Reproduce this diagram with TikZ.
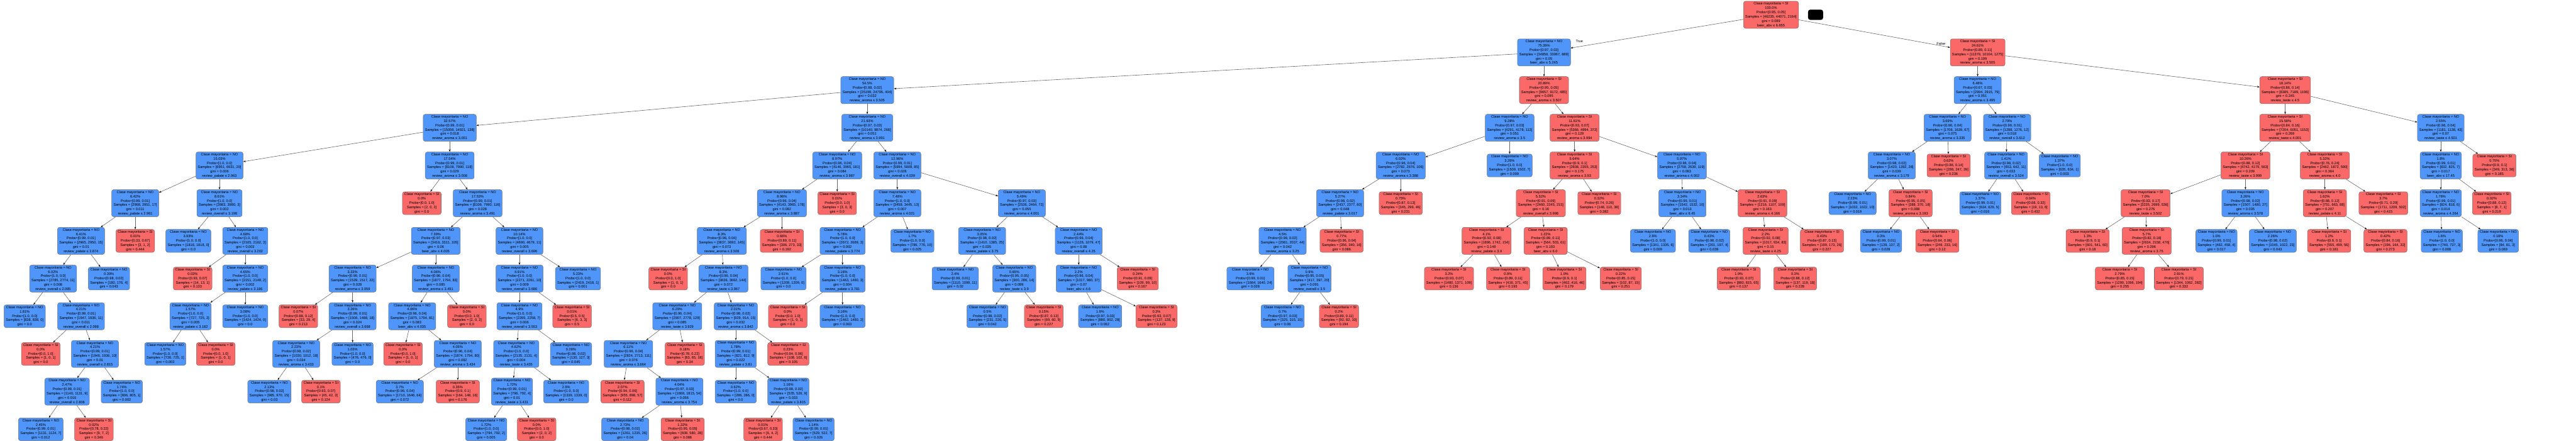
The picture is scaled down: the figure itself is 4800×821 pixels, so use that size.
\documentclass[tikz,border=0pt]{standalone}
\usepackage{fontspec}
\setmainfont{Liberation Sans}
\usetikzlibrary{arrows.meta}
\definecolor{cblue}{RGB}{80,150,250}
\definecolor{cred}{RGB}{250,104,104}
\newcommand\bAbv{beer\_abv ≤ }
\newcommand\rAr{review\_aroma ≤ }
\newcommand\rPa{review\_palate ≤ }
\newcommand\rTa{review\_taste ≤ }
\newcommand\rOv{review\_overall ≤ }
\newcommand\IN[9]{\node[tn,#4] (#1) at (#2,{27.5+70.2*#3}) {Clase mayoritaria = #4\\#5\%\\Probs=[#6]\\Samples = [#7]\\gini = #8\\#9};}
\newcommand\LF[8]{\node[tn,#4] (#1) at (#2,{27.5+70.2*#3}) {Clase mayoritaria = #4\\#5\%\\Probs=[#6]\\Samples = [#7]\\gini = #8};}
\begin{document}
\begin{tikzpicture}[x=1pt,y=-1pt,
  tn/.style={rounded corners=4pt, draw=black!55, line width=0.6pt, align=center,
    inner xsep=3.5pt, inner ysep=2.2pt, font=\fontsize{6.6}{8}\selectfont},
  NO/.style={fill=cblue},
  SI/.style={fill=cred},
  edge/.style={draw=black!60, line width=0.7pt, -{Stealth[length=4.5pt,width=3.2pt,black]}},
  lbl/.style={font=\fontsize{6.6}{8}\selectfont, inner sep=0pt}]
\fill[white] (0,0) rectangle (4800,821);
\useasboundingbox (0,0) rectangle (4800,821);
% level 0
\IN{n0}{3300}{0}{SI}{100.0}{0.95, 0.05}{46235, 44071, 2164}{0.089}{\bAbv 6.655}
\node[fill=black, rounded corners=4pt, minimum width=28pt, minimum height=19pt, inner sep=0pt] (blk) at (3383,27.5) {};
% level 1
\IN{n1}{2877}{1}{NO}{75.39}{0.97, 0.03}{34856, 33967, 889}{0.05}{\bAbv 5.245}
\IN{n2}{3685}{1}{SI}{24.61}{0.89, 0.11}{11379, 10104, 1275}{0.199}{\rAr 3.505}
% level 2
\IN{n3}{1616}{2}{NO}{54.5}{0.98, 0.02}{25199, 24795, 404}{0.032}{\rAr 3.505}
\IN{n4}{2877}{2}{SI}{20.89}{0.95, 0.05}{9657, 9172, 485}{0.095}{\rAr 3.507}
\IN{n5}{3685}{2}{NO}{6.48}{0.97, 0.03}{2994, 2915, 79}{0.051}{\rAr 3.495}
\IN{n6}{4258}{2}{SI}{18.14}{0.86, 0.14}{8385, 7189, 1196}{0.245}{\rTa 4.5}
% level 3
\IN{n7}{838}{3}{NO}{32.57}{0.99, 0.01}{15059, 14921, 138}{0.018}{\rAr 3.001}
\IN{n8}{1616}{3}{NO}{21.93}{0.97, 0.03}{10140, 9874, 266}{0.051}{\rAr 3.991}
\IN{n9}{2813}{3}{NO}{9.28}{0.97, 0.03}{4291, 4178, 113}{0.051}{\rAr 3.5}
\IN{n10}{2934}{3}{SI}{11.61}{0.93, 0.07}{5366, 4994, 372}{0.129}{\rAr 3.994}
\IN{n11}{3629}{3}{NO}{3.69}{0.96, 0.04}{1706, 1639, 67}{0.075}{\rAr 3.335}
\IN{n12}{3740}{3}{NO}{2.79}{0.99, 0.01}{1288, 1276, 12}{0.018}{\rOv 3.612}
\IN{n13}{4258}{3}{SI}{15.58}{0.84, 0.16}{7204, 6051, 1153}{0.269}{\rTa 4.001}
\IN{n14}{4548}{3}{NO}{2.55}{0.96, 0.04}{1181, 1138, 43}{0.07}{\rTa 4.501}
% level 4
\IN{n15}{409}{4}{NO}{15.03}{1.0, 0.0}{6951, 6931, 20}{0.006}{\rPa 2.963}
\IN{n16}{838}{4}{NO}{17.54}{0.99, 0.01}{8108, 7990, 118}{0.029}{\rAr 3.008}
\IN{n17}{1560}{4}{NO}{8.97}{0.96, 0.04}{4146, 3965, 181}{0.084}{\rAr 3.987}
\IN{n18}{1672}{4}{NO}{12.96}{0.99, 0.01}{5994, 5909, 85}{0.028}{\rOv 4.039}
\IN{n19}{2610}{4}{NO}{6.02}{0.96, 0.04}{2782, 2676, 106}{0.073}{\rAr 3.388}
\LF{n20}{2813}{4}{NO}{3.26}{1.0, 0.0}{1509, 1502, 7}{0.009}
\IN{n21}{2934}{4}{SI}{5.64}{0.9, 0.1}{2608, 2355, 253}{0.175}{\rAr 3.93}
\IN{n22}{3134}{4}{NO}{5.97}{0.96, 0.04}{2758, 2639, 119}{0.083}{\rAr 4.002}
\IN{n23}{3525}{4}{NO}{3.07}{0.98, 0.02}{1420, 1392, 28}{0.039}{\rAr 3.179}
\LF{n24}{3631}{4}{SI}{0.62}{0.86, 0.14}{286, 247, 39}{0.236}
\IN{n25}{3738}{4}{NO}{1.41}{0.98, 0.02}{653, 642, 11}{0.033}{\rOv 3.524}
\LF{n26}{3838}{4}{NO}{1.37}{1.0, 0.0}{635, 634, 1}{0.003}
\IN{n27}{4184}{4}{SI}{10.26}{0.88, 0.12}{4742, 4179, 563}{0.209}{\rTa 3.999}
\IN{n28}{4332}{4}{SI}{5.32}{0.76, 0.24}{2462, 1872, 590}{0.364}{\rAr 4.0}
\IN{n29}{4548}{4}{NO}{1.8}{0.99, 0.01}{832, 825, 7}{0.017}{\bAbv 17.45}
\LF{n30}{4648}{4}{SI}{0.75}{0.9, 0.1}{349, 313, 36}{0.185}
% level 5
\IN{n31}{252}{5}{NO}{6.42}{0.99, 0.01}{2968, 2951, 17}{0.011}{\rPa 2.961}
\IN{n32}{409}{5}{NO}{8.61}{1.0, 0.0}{3983, 3980, 3}{0.002}{\rOv 3.198}
\LF{n33}{786}{5}{SI}{0.0}{0.0, 1.0}{2, 0, 2}{0.0}
\IN{n34}{890}{5}{NO}{17.53}{0.99, 0.01}{8106, 7990, 116}{0.028}{\rAr 3.491}
\IN{n35}{1457}{5}{NO}{8.96}{0.96, 0.04}{4143, 3965, 178}{0.082}{\rAr 3.887}
\LF{n36}{1560}{5}{SI}{0.01}{0.0, 1.0}{3, 0, 3}{0.0}
\IN{n37}{1672}{5}{NO}{7.48}{1.0, 0.0}{3458, 3445, 13}{0.007}{\rAr 4.021}
\IN{n38}{1904}{5}{NO}{5.49}{0.97, 0.03}{2536, 2464, 72}{0.055}{\rAr 4.001}
\IN{n39}{2497}{5}{NO}{5.27}{0.98, 0.02}{2437, 2377, 60}{0.048}{\rPa 3.017}
\LF{n40}{2610}{5}{SI}{0.75}{0.87, 0.13}{345, 299, 46}{0.231}
\IN{n41}{2871}{5}{SI}{5.32}{0.91, 0.09}{2460, 2245, 215}{0.16}{\rOv 3.998}
\LF{n42}{2980}{5}{SI}{0.32}{0.74, 0.26}{148, 110, 38}{0.382}
\IN{n43}{3135}{5}{NO}{3.34}{0.99, 0.01}{1542, 1532, 10}{0.013}{\bAbv 6.45}
\IN{n44}{3284}{5}{SI}{2.63}{0.91, 0.09}{1216, 1107, 109}{0.163}{\rAr 4.166}
\LF{n45}{3452}{5}{NO}{2.23}{0.99, 0.01}{1032, 1022, 10}{0.019}
\IN{n46}{3560}{5}{SI}{0.84}{0.95, 0.05}{388, 370, 18}{0.088}{\rAr 3.193}
\LF{n47}{3690}{5}{NO}{1.37}{0.99, 0.01}{634, 629, 5}{0.016}
\LF{n48}{3784}{5}{SI}{0.04}{0.68, 0.32}{19, 13, 6}{0.432}
\IN{n49}{3998}{5}{SI}{7.0}{0.83, 0.17}{3235, 2699, 536}{0.276}{\rTa 3.502}
\IN{n50}{4184}{5}{NO}{3.26}{0.98, 0.02}{1507, 1480, 27}{0.035}{\rAr 3.578}
\IN{n51}{4332}{5}{SI}{1.62}{0.88, 0.12}{751, 663, 88}{0.207}{\rPa 4.11}
\LF{n52}{4441}{5}{SI}{3.7}{0.71, 0.29}{1711, 1209, 502}{0.415}
\IN{n53}{4548}{5}{NO}{1.78}{0.99, 0.01}{824, 818, 6}{0.014}{\rAr 4.264}
\LF{n54}{4643}{5}{SI}{0.02}{0.88, 0.12}{8, 7, 1}{0.219}
% level 6
\IN{n55}{151}{6}{NO}{6.41}{0.99, 0.01}{2965, 2950, 15}{0.01}{\rPa 2.874}
\LF{n56}{252}{6}{SI}{0.01}{0.33, 0.67}{3, 1, 2}{0.444}
\LF{n57}{351}{6}{NO}{3.93}{1.0, 0.0}{1818, 1818, 0}{0.0}
\IN{n58}{457}{6}{NO}{4.68}{1.0, 0.0}{2165, 2162, 3}{0.003}{\rOv 3.202}
\IN{n59}{812}{6}{NO}{7.39}{0.97, 0.03}{3416, 3311, 105}{0.06}{\bAbv 4.005}
\IN{n60}{968}{6}{NO}{10.14}{1.0, 0.0}{4690, 4679, 11}{0.005}{\rOv 3.696}
\IN{n61}{1345}{6}{NO}{8.3}{0.96, 0.04}{3837, 3692, 145}{0.073}{\rAr 3.506}
\LF{n62}{1457}{6}{SI}{0.66}{0.89, 0.11}{306, 273, 33}{0.192}
\IN{n63}{1570}{6}{NO}{5.78}{1.0, 0.0}{2672, 2669, 3}{0.002}{\rPa 3.774}
\LF{n124}{1700}{6}{NO}{1.7}{1.0, 0.0}{786, 776, 10}{0.025}
\IN{n125}{1830}{6}{NO}{3.05}{0.98, 0.02}{1410, 1385, 25}{0.035}{\rPa 3.75}
\IN{n126}{2010}{6}{NO}{2.44}{0.96, 0.04}{1126, 1079, 47}{0.08}{\rOv 4.25}
\IN{n135}{2390}{6}{NO}{4.5}{0.98, 0.02}{2081, 2037, 44}{0.042}{\rAr 3.25}
\LF{n136}{2500}{6}{SI}{0.77}{0.96, 0.04}{356, 340, 16}{0.086}
\IN{n141}{2770}{6}{SI}{4.1}{0.92, 0.08}{1896, 1742, 154}{0.149}{\rPa 3.9}
\IN{n142}{2880}{6}{SI}{1.22}{0.89, 0.11}{564, 503, 61}{0.193}{\bAbv 6.0}
\LF{n147}{3080}{6}{NO}{2.9}{1.0, 0.0}{1341, 1335, 6}{0.009}
\LF{n148}{3185}{6}{NO}{0.43}{0.98, 0.02}{201, 197, 4}{0.039}
\IN{n149}{3290}{6}{SI}{2.2}{0.92, 0.08}{1017, 934, 83}{0.15}{\rTa 4.25}
\LF{n150}{3395}{6}{SI}{0.43}{0.87, 0.13}{199, 173, 26}{0.227}
\LF{n153}{3505}{6}{NO}{0.3}{0.99, 0.01}{139, 137, 2}{0.028}
\LF{n154}{3610}{6}{SI}{0.54}{0.94, 0.06}{249, 233, 16}{0.12}
\LF{n155}{3890}{6}{SI}{1.3}{0.9, 0.1}{601, 541, 60}{0.18}
\IN{n156}{4000}{6}{SI}{5.7}{0.82, 0.18}{2634, 2158, 476}{0.296}{\rAr 3.75}
\LF{n159}{4130}{6}{NO}{1.0}{0.99, 0.01}{462, 458, 4}{0.017}
\LF{n160}{4235}{6}{NO}{2.26}{0.98, 0.02}{1045, 1022, 23}{0.043}
\LF{n161}{4340}{6}{SI}{1.2}{0.9, 0.1}{555, 499, 56}{0.181}
\LF{n162}{4445}{6}{SI}{0.42}{0.84, 0.16}{196, 164, 32}{0.273}
\LF{n163}{4550}{6}{NO}{1.6}{1.0, 0.0}{740, 737, 3}{0.008}
\LF{n164}{4655}{6}{NO}{0.18}{0.96, 0.04}{84, 81, 3}{0.069}
% level 7
\IN{n64}{99}{7}{NO}{6.02}{1.0, 0.0}{2785, 2774, 11}{0.008}{\rOv 2.095}
\LF{n65}{203}{7}{NO}{0.39}{0.98, 0.02}{180, 176, 4}{0.043}
\LF{n66}{359}{7}{SI}{0.03}{0.93, 0.07}{14, 13, 1}{0.133}
\IN{n67}{457}{7}{NO}{4.65}{1.0, 0.0}{2151, 2149, 2}{0.002}{\rPa 3.186}
\IN{n68}{657}{7}{NO}{3.33}{0.99, 0.01}{1539, 1517, 22}{0.028}{\rAr 3.059}
\IN{n69}{812}{7}{NO}{4.06}{0.96, 0.04}{1877, 1794, 83}{0.085}{\rAr 3.491}
\IN{n70}{968}{7}{NO}{4.91}{1.0, 0.0}{2271, 2261, 10}{0.009}{\rOv 3.686}
\LF{n71}{1077}{7}{NO}{5.23}{1.0, 0.0}{2419, 2418, 1}{0.001}
\LF{n72}{1245}{7}{SI}{0.0}{0.0, 1.0}{1, 0, 1}{0.0}
\IN{n73}{1348}{7}{NO}{8.3}{0.96, 0.04}{3836, 3692, 144}{0.072}{\rTa 3.967}
\LF{n74}{1460}{7}{NO}{2.61}{1.0, 0.0}{1209, 1209, 0}{0.0}
\IN{n75}{1570}{7}{NO}{3.16}{1.0, 0.0}{1463, 1460, 3}{0.004}{\rPa 3.781}
\LF{n127}{1780}{7}{NO}{2.4}{0.99, 0.01}{1110, 1099, 11}{0.02}
\IN{n128}{1890}{7}{NO}{0.65}{0.95, 0.05}{300, 286, 14}{0.089}{\rTa 3.9}
\IN{n131}{2010}{7}{NO}{2.2}{0.96, 0.04}{1017, 980, 37}{0.07}{\bAbv 4.6}
\LF{n132}{2120}{7}{SI}{0.24}{0.91, 0.09}{109, 99, 10}{0.167}
\LF{n137}{2330}{7}{NO}{3.6}{0.99, 0.01}{1664, 1640, 24}{0.028}
\IN{n138}{2440}{7}{NO}{0.9}{0.95, 0.05}{417, 397, 20}{0.091}{\rOv 3.5}
\LF{n143}{2700}{7}{SI}{3.2}{0.93, 0.07}{1480, 1371, 109}{0.136}
\LF{n144}{2810}{7}{SI}{0.9}{0.89, 0.11}{416, 371, 45}{0.193}
\LF{n145}{2915}{7}{SI}{1.0}{0.9, 0.1}{462, 416, 46}{0.179}
\LF{n146}{3020}{7}{SI}{0.22}{0.85, 0.15}{102, 87, 15}{0.251}
\LF{n151}{3240}{7}{SI}{1.9}{0.93, 0.07}{880, 815, 65}{0.137}
\LF{n152}{3345}{7}{SI}{0.3}{0.88, 0.12}{137, 119, 18}{0.228}
\LF{n157}{3950}{7}{SI}{2.79}{0.85, 0.15}{1290, 1096, 194}{0.255}
\LF{n158}{4060}{7}{SI}{2.91}{0.79, 0.21}{1344, 1062, 282}{0.332}
% level 8
\LF{n76}{46}{8}{NO}{1.81}{1.0, 0.0}{838, 838, 0}{0.0}
\IN{n77}{151}{8}{NO}{4.21}{0.99, 0.01}{1947, 1936, 11}{0.011}{\rOv 2.098}
\IN{n78}{355}{8}{NO}{1.57}{1.0, 0.0}{727, 725, 2}{0.005}{\rPa 3.182}
\LF{n79}{457}{8}{NO}{3.08}{1.0, 0.0}{1424, 1424, 0}{0.0}
\LF{n80}{556}{8}{SI}{0.07}{0.88, 0.12}{33, 29, 4}{0.213}
\IN{n81}{657}{8}{NO}{3.26}{0.99, 0.01}{1506, 1488, 18}{0.024}{\rOv 3.668}
\IN{n82}{768}{8}{NO}{4.06}{0.96, 0.04}{1875, 1794, 81}{0.083}{\bAbv 4.035}
\LF{n83}{870}{8}{SI}{0.0}{0.0, 1.0}{2, 0, 2}{0.0}
\IN{n84}{968}{8}{NO}{4.9}{1.0, 0.0}{2265, 2258, 7}{0.006}{\rOv 3.553}
\LF{n85}{1066}{8}{SI}{0.01}{0.5, 0.5}{6, 3, 3}{0.5}
\IN{n86}{1262}{8}{NO}{6.29}{0.96, 0.04}{2907, 2778, 129}{0.085}{\rTa 3.929}
\IN{n87}{1371}{8}{NO}{2.01}{0.98, 0.02}{929, 914, 15}{0.032}{\rAr 3.842}
\LF{n88}{1468}{8}{SI}{0.0}{0.0, 1.0}{1, 0, 1}{0.0}
\LF{n89}{1570}{8}{NO}{3.16}{1.0, 0.0}{1462, 1460, 2}{0.003}
\LF{n129}{1840}{8}{NO}{0.5}{0.98, 0.02}{231, 226, 5}{0.042}
\LF{n130}{1945}{8}{SI}{0.15}{0.87, 0.13}{69, 60, 9}{0.227}
\LF{n133}{2050}{8}{NO}{1.9}{0.97, 0.03}{880, 852, 28}{0.062}
\LF{n134}{2155}{8}{SI}{0.3}{0.93, 0.07}{137, 128, 9}{0.123}
\LF{n139}{2390}{8}{NO}{0.7}{0.97, 0.03}{325, 315, 10}{0.06}
\LF{n140}{2495}{8}{SI}{0.2}{0.89, 0.11}{92, 82, 10}{0.194}
% level 9
\LF{n90}{76}{9}{SI}{0.0}{0.0, 1.0}{1, 0, 1}{0.0}
\IN{n91}{177}{9}{NO}{4.21}{0.99, 0.01}{1946, 1936, 10}{0.01}{\rOv 2.815}
\LF{n92}{308}{9}{NO}{1.57}{1.0, 0.0}{726, 725, 1}{0.003}
\LF{n93}{402}{9}{SI}{0.0}{0.0, 1.0}{1, 0, 1}{0.0}
\IN{n94}{552}{9}{NO}{2.23}{0.98, 0.02}{1030, 1012, 18}{0.034}{\rAr 3.433}
\LF{n95}{657}{9}{NO}{1.03}{1.0, 0.0}{476, 476, 0}{0.0}
\LF{n96}{751}{9}{SI}{0.0}{0.0, 1.0}{1, 0, 1}{0.0}
\IN{n97}{853}{9}{NO}{4.05}{0.96, 0.04}{1874, 1794, 80}{0.082}{\rAr 3.434}
\IN{n98}{962}{9}{NO}{4.62}{1.0, 0.0}{2135, 2131, 4}{0.004}{\rTa 3.435}
\LF{n99}{1064}{9}{NO}{0.28}{0.98, 0.02}{130, 127, 3}{0.045}
\IN{n100}{1171}{9}{NO}{6.11}{0.96, 0.04}{2824, 2713, 111}{0.076}{\rAr 3.664}
\LF{n101}{1276}{9}{SI}{0.18}{0.78, 0.22}{83, 65, 18}{0.34}
\IN{n102}{1371}{9}{NO}{1.78}{0.99, 0.01}{821, 812, 9}{0.022}{\rPa 3.81}
\LF{n103}{1469}{9}{SI}{0.23}{0.94, 0.06}{108, 102, 6}{0.105}
% level 10
\IN{n104}{125}{10}{NO}{2.47}{0.99, 0.01}{1140, 1131, 9}{0.016}{\rOv 2.806}
\LF{n105}{227}{10}{NO}{1.74}{1.0, 0.0}{806, 805, 1}{0.002}
\LF{n106}{502}{10}{NO}{2.13}{0.98, 0.02}{985, 970, 15}{0.03}
\LF{n107}{598}{10}{SI}{0.1}{0.93, 0.07}{45, 42, 3}{0.124}
\LF{n108}{745}{10}{NO}{3.7}{0.96, 0.04}{1710, 1646, 64}{0.072}
\LF{n109}{853}{10}{SI}{0.35}{0.9, 0.1}{164, 148, 16}{0.176}
\IN{n110}{954}{10}{NO}{1.72}{0.99, 0.01}{796, 792, 4}{0.01}{\rTa 3.431}
\LF{n111}{1055}{10}{NO}{2.9}{1.0, 0.0}{1339, 1339, 0}{0.0}
\LF{n112}{1160}{10}{SI}{2.07}{0.94, 0.06}{955, 898, 57}{0.112}
\IN{n113}{1266}{10}{NO}{4.04}{0.97, 0.03}{1869, 1815, 54}{0.056}{\rAr 3.754}
\LF{n114}{1371}{10}{NO}{0.62}{1.0, 0.0}{286, 286, 0}{0.0}
\IN{n115}{1469}{10}{NO}{1.16}{0.98, 0.02}{535, 526, 9}{0.033}{\rPa 3.815}
% level 11
\LF{n116}{76}{11}{NO}{2.45}{0.99, 0.01}{1131, 1124, 7}{0.012}
\LF{n117}{175}{11}{SI}{0.02}{0.78, 0.22}{9, 7, 2}{0.346}
\LF{n118}{906}{11}{NO}{1.72}{1.0, 0.0}{794, 792, 2}{0.005}
\LF{n119}{1000}{11}{SI}{0.0}{0.0, 1.0}{2, 0, 2}{0.0}
\LF{n120}{1165}{11}{NO}{2.73}{0.98, 0.02}{1261, 1235, 26}{0.04}
\LF{n121}{1272}{11}{SI}{1.32}{0.95, 0.05}{608, 580, 28}{0.088}
\LF{n122}{1422}{11}{SI}{0.01}{0.67, 0.33}{6, 4, 2}{0.444}
\LF{n123}{1516}{11}{NO}{1.14}{0.99, 0.01}{529, 522, 7}{0.026}
% edges
\foreach \p/\c in {n0/n1,n0/n2,n1/n3,n1/n4,n2/n5,n2/n6,n3/n7,n3/n8,n4/n9,n4/n10,
  n5/n11,n5/n12,n6/n13,n6/n14,n7/n15,n7/n16,n8/n17,n8/n18,n9/n19,n9/n20,
  n10/n21,n10/n22,n11/n23,n11/n24,n12/n25,n12/n26,n13/n27,n13/n28,n14/n29,n14/n30,
  n15/n31,n15/n32,n16/n33,n16/n34,n17/n35,n17/n36,n18/n37,n18/n38,n19/n39,n19/n40,
  n21/n41,n21/n42,n22/n43,n22/n44,n23/n45,n23/n46,n25/n47,n25/n48,n27/n49,n27/n50,
  n28/n51,n28/n52,n29/n53,n29/n54,n31/n55,n31/n56,n32/n57,n32/n58,n34/n59,n34/n60,
  n35/n61,n35/n62,n37/n63,n55/n64,n55/n65,n58/n66,n58/n67,n59/n68,n59/n69,
  n60/n70,n60/n71,n61/n72,n61/n73,n63/n74,n63/n75,n64/n76,n64/n77,n67/n78,n67/n79,
  n68/n80,n68/n81,n69/n82,n69/n83,n70/n84,n70/n85,n73/n86,n73/n87,n75/n88,n75/n89,
  n77/n90,n77/n91,n78/n92,n78/n93,n81/n94,n81/n95,n82/n96,n82/n97,n84/n98,n84/n99,
  n86/n100,n86/n101,n87/n102,n87/n103,n91/n104,n91/n105,n94/n106,n94/n107,
  n97/n108,n97/n109,n98/n110,n98/n111,n100/n112,n100/n113,n102/n114,n102/n115,
  n104/n116,n104/n117,n110/n118,n110/n119,n113/n120,n113/n121,n115/n122,n115/n123,
  n37/n124,n38/n125,n38/n126,n125/n127,n125/n128,n128/n129,n128/n130,
  n126/n131,n126/n132,n131/n133,n131/n134,n39/n135,n39/n136,n135/n137,n135/n138,
  n138/n139,n138/n140,n41/n141,n41/n142,n141/n143,n141/n144,n142/n145,n142/n146,
  n43/n147,n43/n148,n44/n149,n44/n150,n149/n151,n149/n152,n46/n153,n46/n154,
  n49/n155,n49/n156,n156/n157,n156/n158,n50/n159,n50/n160,n51/n161,n51/n162,
  n53/n163,n53/n164}
  \draw[edge] (\p) -- (\c);
\node[lbl, anchor=west] (tlab) at (2936,77) {True};
\node[lbl, anchor=east] (flab) at (3625,82) {False};
\end{tikzpicture}
\end{document}
